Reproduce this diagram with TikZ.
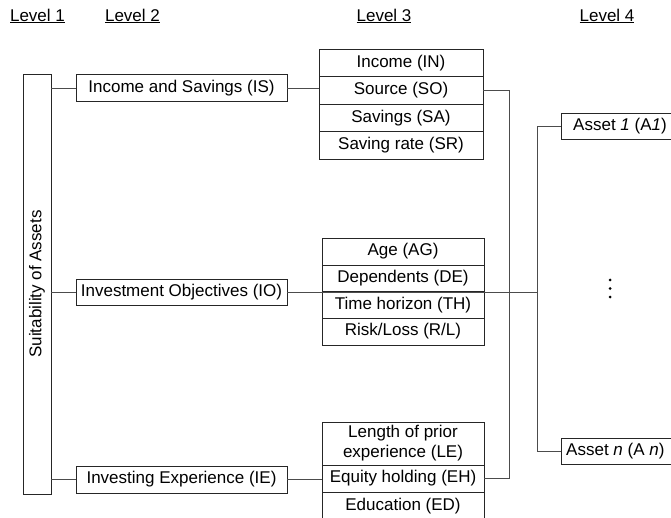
\documentclass[tikz,border=0pt]{standalone}
\usepackage{fontspec}
\setmainfont{Liberation Sans}
\begin{document}
\begin{tikzpicture}[x=1pt,y=-1pt,
  every node/.style={font=\fontsize{17}{20}\selectfont, inner sep=0pt},
  boxA/.style={draw=black!85, line width=0.9pt, rectangle, align=center},
  conn/.style={draw=black!70, line width=0.9pt},
  lvl/.style={anchor=center}]
\useasboundingbox (0,0) rectangle (671,518);
\clip (0,0) rectangle (671,518);
% level headings
\node[lvl] (L1) at (37.5,16) {\underline{Level 1}};
\node[lvl] (L2) at (132.5,16) {\underline{Level 2}};
\node[lvl] (L3) at (384,16) {\underline{Level 3}};
\node[lvl] (L4) at (607,16) {\underline{Level 4}};
% level 1
\node[boxA, minimum width=28pt, minimum height=420pt] (SA1) at (37,284) {};
\node[rotate=90] (SAt) at (37,284) {Suitability of Assets};
% level 2
\node[boxA, minimum width=211pt, minimum height=27pt] (IS) at (181.5,88) {Income and Savings (IS)};
\node[boxA, minimum width=211pt, minimum height=26pt] (IO) at (181.5,292) {Investment Objectives (IO)};
\node[boxA, minimum width=211pt, minimum height=27pt] (IE) at (181.5,479.5) {Investing Experience (IE)};
% level 3 - IS
\node[boxA, minimum width=164pt, minimum height=27.5pt] (IN) at (401,62.75) {Income (IN)};
\node[boxA, minimum width=164pt, minimum height=27.5pt] (SO) at (401,90.25) {Source (SO)};
\node[boxA, minimum width=164pt, minimum height=27.5pt] (SAv) at (401,117.75) {Savings (SA)};
\node[boxA, minimum width=164pt, minimum height=27.5pt] (SR) at (401,145.25) {Saving rate (SR)};
% level 3 - IO
\node[boxA, minimum width=162pt, minimum height=27pt] (AG) at (403,251.5) {Age (AG)};
\node[boxA, minimum width=162pt, minimum height=26.75pt] (DE) at (403,278.5) {Dependents (DE)};
\node[boxA, minimum width=162pt, minimum height=26.5pt] (TH) at (403,305) {Time horizon (TH)};
\node[boxA, minimum width=162pt, minimum height=27pt] (RL) at (403,331.5) {Risk/Loss (R/L)};
% level 3 - IE
\node[boxA, minimum width=162pt, minimum height=43pt] (LE) at (403,443.5) {Length of prior\\experience (LE)};
\node[boxA, minimum width=162pt, minimum height=27pt] (EH) at (403,478.5) {Equity holding (EH)};
\node[boxA, minimum width=162pt, minimum height=28pt] (ED) at (403,506) {Education (ED)};
% level 4
\node[boxA, minimum width=130pt, minimum height=26pt] (A1) at (626,126) {};
\node[anchor=west] (A1t) at (573,126) {Asset \textit{1} (A\textit{1})};
\node[boxA, minimum width=130pt, minimum height=26pt] (An) at (626,451) {};
\node[anchor=west] (Ant) at (566,451) {Asset \textit{n} (A \textit{n})};
% dots
\foreach \yy/\nm in {280/d1,288.5/d2,297/d3}
  \node[circle, fill=black, minimum size=3pt] (\nm) at (610,\yy) {};
% connectors
\coordinate (J1) at (509,90.25);
\coordinate (J2) at (509,478.5);
\coordinate (K1) at (537,126);
\coordinate (K2) at (537,451);
\coordinate (KM) at (537,292);
\draw[conn] (SA1.east |- IS.west) -- (IS.west);
\draw[conn] (SA1.east |- IO.west) -- (IO.west);
\draw[conn] (SA1.east |- IE.west) -- (IE.west);
\draw[conn] (IS.east) -- (SO.west |- IS.east);
\draw[conn] (IE.east) -- (EH.west |- IE.east);
\draw[conn] (IO.east) -- (KM);
\draw[conn] (SO.east) -- (J1) -- (J2) -- (EH.east);
\draw[conn] (A1.west) -- (K1) -- (K2) -- (An.west);
\end{tikzpicture}
\end{document}
